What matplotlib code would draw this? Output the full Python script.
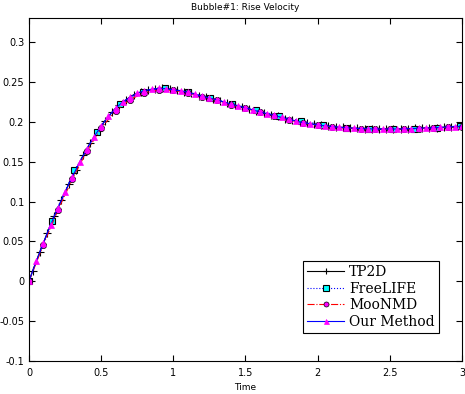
import matplotlib
matplotlib.use("Agg")
import matplotlib.pyplot as plt

# Our Method (blue line, magenta triangles)
t_our = [0.00, 0.05, 0.10, 0.15, 0.20, 0.25, 0.30, 0.35, 0.40, 0.45,
         0.50, 0.55, 0.60, 0.65, 0.70, 0.75, 0.80, 0.85, 0.90, 0.95,
         1.00, 1.05, 1.10, 1.15, 1.20, 1.25, 1.30, 1.35, 1.40, 1.45,
         1.50, 1.55, 1.60, 1.65, 1.70, 1.75, 1.80, 1.85, 1.90, 1.95,
         2.00, 2.05, 2.10, 2.15, 2.20, 2.25, 2.30, 2.35, 2.40, 2.45,
         2.50, 2.55, 2.60, 2.65, 2.70, 2.75, 2.80, 2.85, 2.90, 2.95, 3.00]
v_our = [0.000, 0.025, 0.048, 0.071, 0.092, 0.112, 0.131, 0.149, 0.166, 0.181,
         0.195, 0.207, 0.217, 0.225, 0.231, 0.236, 0.239, 0.241, 0.242, 0.2415,
         0.240, 0.239, 0.237, 0.2345, 0.232, 0.230, 0.2275, 0.225, 0.222, 0.220,
         0.2175, 0.215, 0.2125, 0.210, 0.208, 0.2055, 0.203, 0.201, 0.199, 0.1975,
         0.196, 0.195, 0.194, 0.193, 0.1925, 0.192, 0.1915, 0.1912, 0.191, 0.191,
         0.191, 0.191, 0.1912, 0.1915, 0.192, 0.1922, 0.1925, 0.193, 0.1935, 0.194, 0.1945]

# TP2D (black line, + markers)
t_tp2d = [0.00, 0.025, 0.075, 0.125, 0.175, 0.225, 0.275, 0.325, 0.375, 0.425,
          0.475, 0.525, 0.575, 0.625, 0.675, 0.725, 0.775, 0.825, 0.875, 0.925,
          0.975, 1.025, 1.075, 1.125, 1.175, 1.225, 1.275, 1.325, 1.375, 1.425,
          1.475, 1.525, 1.575, 1.625, 1.675, 1.725, 1.775, 1.825, 1.875, 1.925,
          1.975, 2.025, 2.075, 2.125, 2.175, 2.225, 2.275, 2.325, 2.375, 2.425,
          2.475, 2.525, 2.575, 2.625, 2.675, 2.725, 2.775, 2.825, 2.875, 2.925, 2.975]
v_tp2d = [0.000, 0.013, 0.037, 0.060, 0.082, 0.102, 0.122, 0.140, 0.158, 0.174,
          0.188, 0.201, 0.212, 0.221, 0.228, 0.234, 0.2375, 0.240, 0.2415, 0.242,
          0.241, 0.2395, 0.238, 0.236, 0.233, 0.231, 0.229, 0.226, 0.2235, 0.221,
          0.219, 0.216, 0.214, 0.211, 0.209, 0.207, 0.204, 0.202, 0.200, 0.198,
          0.197, 0.1955, 0.1945, 0.1935, 0.193, 0.1922, 0.1918, 0.1914, 0.1911, 0.191,
          0.191, 0.191, 0.1911, 0.1913, 0.1917, 0.1921, 0.1924, 0.1928, 0.1932, 0.1937, 0.1942]

# FreeLIFE (blue dotted line, cyan squares)
t_free = [0.000, 0.157, 0.315, 0.474, 0.632, 0.790, 0.944, 1.100, 1.257, 1.410,
          1.570, 1.730, 1.887, 2.040, 2.200, 2.356, 2.520, 2.670, 2.830, 2.990]
v_free = [0.000, 0.076, 0.139, 0.1875, 0.222, 0.238, 0.2425, 0.2375, 0.230, 0.222,
          0.2154, 0.2075, 0.201, 0.1966, 0.1925, 0.1916, 0.1909, 0.1916, 0.1925, 0.195]

# MooNMD (red dash-dot line, magenta circles)
t_moo = [0.00, 0.10, 0.20, 0.30, 0.40, 0.50, 0.60, 0.70, 0.80, 0.90,
         1.00, 1.10, 1.20, 1.30, 1.40, 1.50, 1.60, 1.70, 1.80, 1.90,
         2.00, 2.10, 2.20, 2.30, 2.40, 2.50, 2.60, 2.70, 2.80, 2.90, 3.00]
v_moo = [0.000, 0.046, 0.089, 0.128, 0.163, 0.192, 0.214, 0.228, 0.2365, 0.240,
         0.2395, 0.2365, 0.2315, 0.227, 0.2215, 0.217, 0.212, 0.2075, 0.2025, 0.1985,
         0.1955, 0.1935, 0.192, 0.1912, 0.1908, 0.1908, 0.191, 0.1915, 0.1922, 0.193, 0.194]

x_ticks = [0, 0.5, 1, 1.5, 2, 2.5, 3]
y_ticks = [-0.1, -0.05, 0, 0.05, 0.1, 0.15, 0.2, 0.25, 0.3]
y_labels = ["-0.1", "-0.05", "0", "0.05", "0.1", "0.15", "0.2", "0.25", "0.3"]

fig = plt.figure(figsize=(4.65, 3.94), dpi=100)
ax = fig.add_axes([0.0624, 0.0838, 0.931, 0.870])

ax.plot(t_tp2d, v_tp2d, color="black", lw=0.8, marker="+", ms=6, mew=0.8, label="TP2D")
ax.plot(t_free, v_free, color="blue", lw=0.8, ls=":", marker="s", ms=5,
        mfc="cyan", mec="black", mew=0.8, label="FreeLIFE")
ax.plot(t_moo, v_moo, color="red", lw=0.8, ls="-.", marker="o", ms=4.5,
        mfc="magenta", mec="black", mew=0.5, label="MooNMD")
ax.plot(t_our, v_our, color="blue", lw=0.8, marker="^", ms=4.5,
        mfc="magenta", mec="magenta", mew=0.5, label="Our Method")

ax.set_xlim(0, 3)
ax.set_ylim(-0.1, 0.33)
ax.set_xticks(x_ticks)
ax.set_xticklabels([f"{x:g}" for x in x_ticks])
ax.set_yticks(y_ticks)
ax.set_yticklabels(y_labels)
ax.tick_params(direction="in", top=True, right=True, labelsize=7, length=4, width=0.8)
ax.tick_params(axis="x", pad=5)
for s in ax.spines.values():
    s.set_linewidth(0.8)

ax.set_title("Bubble#1: Rise Velocity", fontsize=6.5, pad=6)
ax.set_xlabel("Time", fontsize=6.5, labelpad=4)

leg = ax.legend(loc="lower right", bbox_to_anchor=(0.947, 0.082), fancybox=False,
                edgecolor="black", framealpha=1, prop={"family": "DejaVu Serif", "size": 10},
                handlelength=2.7, borderpad=0.3, labelspacing=0.18, handletextpad=0.35,
                borderaxespad=0, markerscale=0.8)
leg.get_frame().set_linewidth(0.8)

fig.savefig("out.png", dpi=100)
